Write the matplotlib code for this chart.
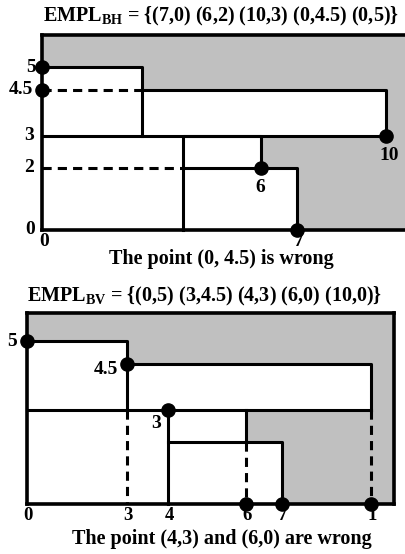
import numpy as np
import matplotlib.pyplot as plt
from matplotlib.patches import Rectangle

plt.rcParams['font.family'] = ['Liberation Serif', 'DejaVu Serif']
plt.rcParams['font.weight'] = 'bold'
plt.rcParams['mathtext.fontset'] = 'custom'
plt.rcParams['mathtext.rm'] = 'Liberation Serif:bold'

# ---- data ----
# maximal empty rectangles (x0, y0, x1, y1) -> white area
empty_rects = [(0, 3, 3, 5), (0, 3, 10, 4.5), (0, 0, 6, 3), (4, 0, 7, 2)]

# top panel (BH)
bh_points = [(7, 0), (6, 2), (10, 3), (0, 4.5), (0, 5)]
bh_solid = [[(0, 5), (3, 5), (3, 3)],
            [(3, 4.5), (10, 4.5), (10, 3)],
            [(0, 3), (10, 3)],
            [(4, 0), (4, 3), (6, 3), (6, 2), (7, 2), (7, 0)],
            [(4, 2), (6, 2)]]
bh_dashed = [[(0, 4.5), (3, 4.5)], [(0, 2), (4, 2)]]
bh_title = r'EMPL$_{\mathrm{BH}}$ = {(7,0) (6,2) (10,3) (0,4.5) (0,5)}'
bh_caption = 'The point (0, 4.5) is wrong'

# bottom panel (BV)
bv_points = [(0, 5), (3, 4.5), (4, 3), (6, 0), (7, 0), (10, 0)]
bv_solid = [[(0, 5), (3, 5), (3, 3)],
            [(3, 4.5), (10, 4.5), (10, 3)],
            [(0, 3), (10, 3)],
            [(4, 0), (4, 3)],
            [(6, 3), (6, 2)],
            [(4, 2), (7, 2), (7, 0)]]
bv_dashed = [[(3, 3), (3, 0)], [(6, 2), (6, 0)], [(10, 3), (10, 0)]]
bv_xticks = [0, 3, 4, 6, 7, 10]
bv_xlabels = ['0', '3', '4', '6', '7', '1']
bv_title = r'EMPL$_{\mathrm{BV}}$ = {(0,5) (3,4.5) (4,3) (6,0) (10,0)}'
bv_caption = 'The point (4,3) and (6,0) are wrong'

# the sketch is not drawn to scale: piecewise-linear axes (pixels per knot)
X_KNOTS = [-1, 0, 3, 4, 6, 7, 10, 12]
X_PIX = [-35, 0, 100, 141, 219, 255, 344, 415]
Y_KNOTS = [-1, 0, 2, 3, 4.5, 5, 7]
Y_PIX = [-31, 0, 62, 94, 140, 163, 223]


def fx(v):
    return np.interp(v, X_KNOTS, X_PIX)


def fx_inv(v):
    return np.interp(v, X_PIX, X_KNOTS)


def fy(v):
    return np.interp(v, Y_KNOTS, Y_PIX)


def fy_inv(v):
    return np.interp(v, Y_PIX, Y_KNOTS)


W, H = 405, 554
GRAY = '#c0c0c0'
LW = 2.2
fig = plt.figure(figsize=(W / 100, H / 100), dpi=100)


def make_panel(left, bottom_px, width, height):
    ax = fig.add_axes([left / W, 1 - bottom_px / H, width / W, height / H])
    ax.set_xscale('function', functions=(fx, fx_inv))
    ax.set_yscale('function', functions=(fy, fy_inv))
    ax.set_xlim(0, fx_inv(width))
    ax.set_ylim(0, fy_inv(height))
    ax.set_facecolor(GRAY)
    ax.set_xticks([])
    ax.set_yticks([])
    ax.minorticks_off()
    for s in ax.spines.values():
        s.set_linewidth(2.6)
    for x0, y0, x1, y1 in empty_rects:
        ax.add_patch(Rectangle((x0, y0), x1 - x0, y1 - y0, facecolor='white',
                               edgecolor='none', zorder=1))
    return ax


def draw_lines(ax, solid, dashed, points):
    for seg in solid:
        xs, ys = zip(*seg)
        ax.plot(xs, ys, color='black', lw=LW, zorder=3, clip_on=False,
                solid_capstyle='projecting')
    for seg in dashed:
        xs, ys = zip(*seg)
        ax.plot(xs, ys, color='black', lw=LW, ls=(0, (3, 2)), zorder=3)
    px, py = zip(*points)
    ax.plot(px, py, 'o', color='black', ms=9.5, zorder=5, clip_on=False)


def label(ax, text, xy, dx, dy, size=14):
    # dx, dy in pixels
    ax.annotate(text, xy, xytext=(dx * 0.72, dy * 0.72), textcoords='offset points',
                ha='center', va='center', fontsize=size, fontweight='bold',
                annotation_clip=False)


# ---- top panel ----
ax1 = make_panel(42, 230, 372, 195)
ax1.spines['right'].set_visible(False)
draw_lines(ax1, bh_solid, bh_dashed, bh_points)
label(ax1, '5', (0, 5), -11, 0)
label(ax1, '4.5', (0, 4.5), -21.5, 0)
label(ax1, '3', (0, 3), -13, 0)
label(ax1, '2', (0, 2), -13, 0)
label(ax1, '0', (0, 0), -12, 1)
label(ax1, '0', (0, 0), 2, -11)
label(ax1, '7', (7, 0), 2, -11)
label(ax1, '6', (6, 2), -1, -20)
label(ax1, '10', (10, 3), 3, -20)
fig.text(221 / W, 1 - 16 / H, bh_title, ha='center', va='center', fontsize=14.5)
fig.text(221 / W, 1 - 259 / H, bh_caption, ha='center', va='center', fontsize=14.5)

# ---- bottom panel ----
ax2 = make_panel(27, 504, 367, 191)
draw_lines(ax2, bv_solid, bv_dashed, bv_points)
for xv, lab in zip(bv_xticks, bv_xlabels):
    label(ax2, lab, (xv, 0), 1, -12, size=13.5)
label(ax2, '5', (0, 5), -15, 0)
label(ax2, '4.5', (3, 4.5), -21.5, -6)
label(ax2, '3', (4, 3), -12, -14)
fig.text(205 / W, 1 - 296 / H, bv_title, ha='center', va='center', fontsize=14.5)
fig.text(222 / W, 1 - 539 / H, bv_caption, ha='center', va='center', fontsize=14.5)

plt.savefig('out.png', dpi=100)
